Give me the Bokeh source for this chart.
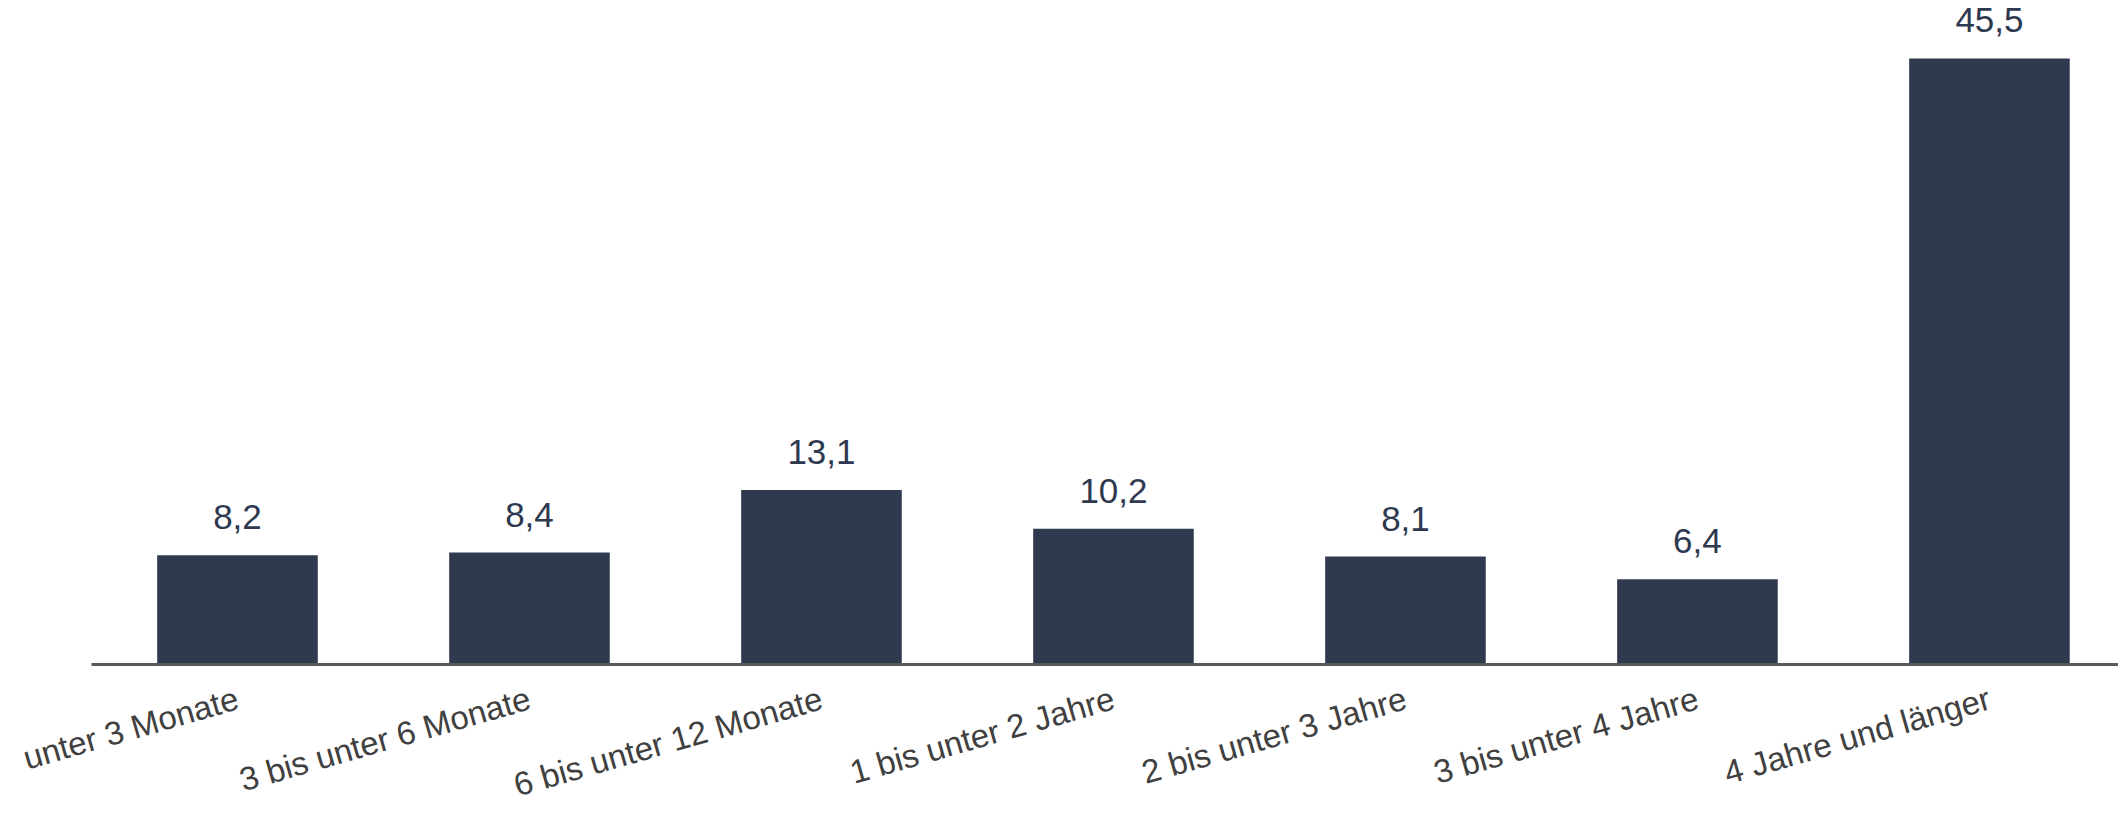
import math
from bokeh.plotting import figure
from bokeh.models import ColumnDataSource, Range1d, FixedTicker
from bokeh.core.properties import value
from bokeh.embed import file_html
from bokeh.resources import INLINE

categories = [
    "unter 3 Monate",
    "3 bis unter 6 Monate",
    "6 bis unter 12 Monate",
    "1 bis unter 2 Jahre",
    "2 bis unter 3 Jahre",
    "3 bis unter 4 Jahre",
    "4 Jahre und länger",
]
values = [8.2, 8.4, 13.1, 10.2, 8.1, 6.4, 45.5]
value_labels = ["8,2", "8,4", "13,1", "10,2", "8,1", "6,4", "45,5"]

xs = list(range(len(categories)))
src = ColumnDataSource(dict(x=xs, top=values, lab=value_labels))

p = figure(width=2118, height=800, output_backend="svg", toolbar_location=None,
           x_range=Range1d(-0.8116, 6.442), y_range=Range1d(-10.21, 49.85),
           min_border_left=0, min_border_right=0, min_border_top=0,
           min_border_bottom=0)
p.outline_line_color = None
p.background_fill_color = "white"
p.border_fill_color = "white"
p.grid.visible = False
p.yaxis.visible = False

p.vbar(x="x", top="top", bottom=0, width=0.55, source=src,
       fill_color="#303a4f", line_color=None)

p.text(x="x", y="top", text="lab", source=src, text_align="center",
       text_baseline="alphabetic", y_offset=-38,
       text_font=value("Liberation Sans"), text_font_size="35px",
       text_color="#2e3950")

ax = p.xaxis[0]
ax.fixed_location = 0
ax.bounds = (-0.5, 6.442)
ax.ticker = FixedTicker(ticks=xs)
ax.major_label_overrides = {i: c for i, c in enumerate(categories)}
ax.major_label_orientation = math.radians(16)
ax.major_label_text_font = "Liberation Sans"
ax.major_label_text_font_size = "33px"
ax.major_label_text_color = "#404040"
ax.major_label_standoff = 27
ax.major_tick_line_color = None
ax.minor_tick_line_color = None
ax.axis_line_color = "#595959"
ax.axis_line_width = 3

open("out.html", "w").write(file_html(p, INLINE))
